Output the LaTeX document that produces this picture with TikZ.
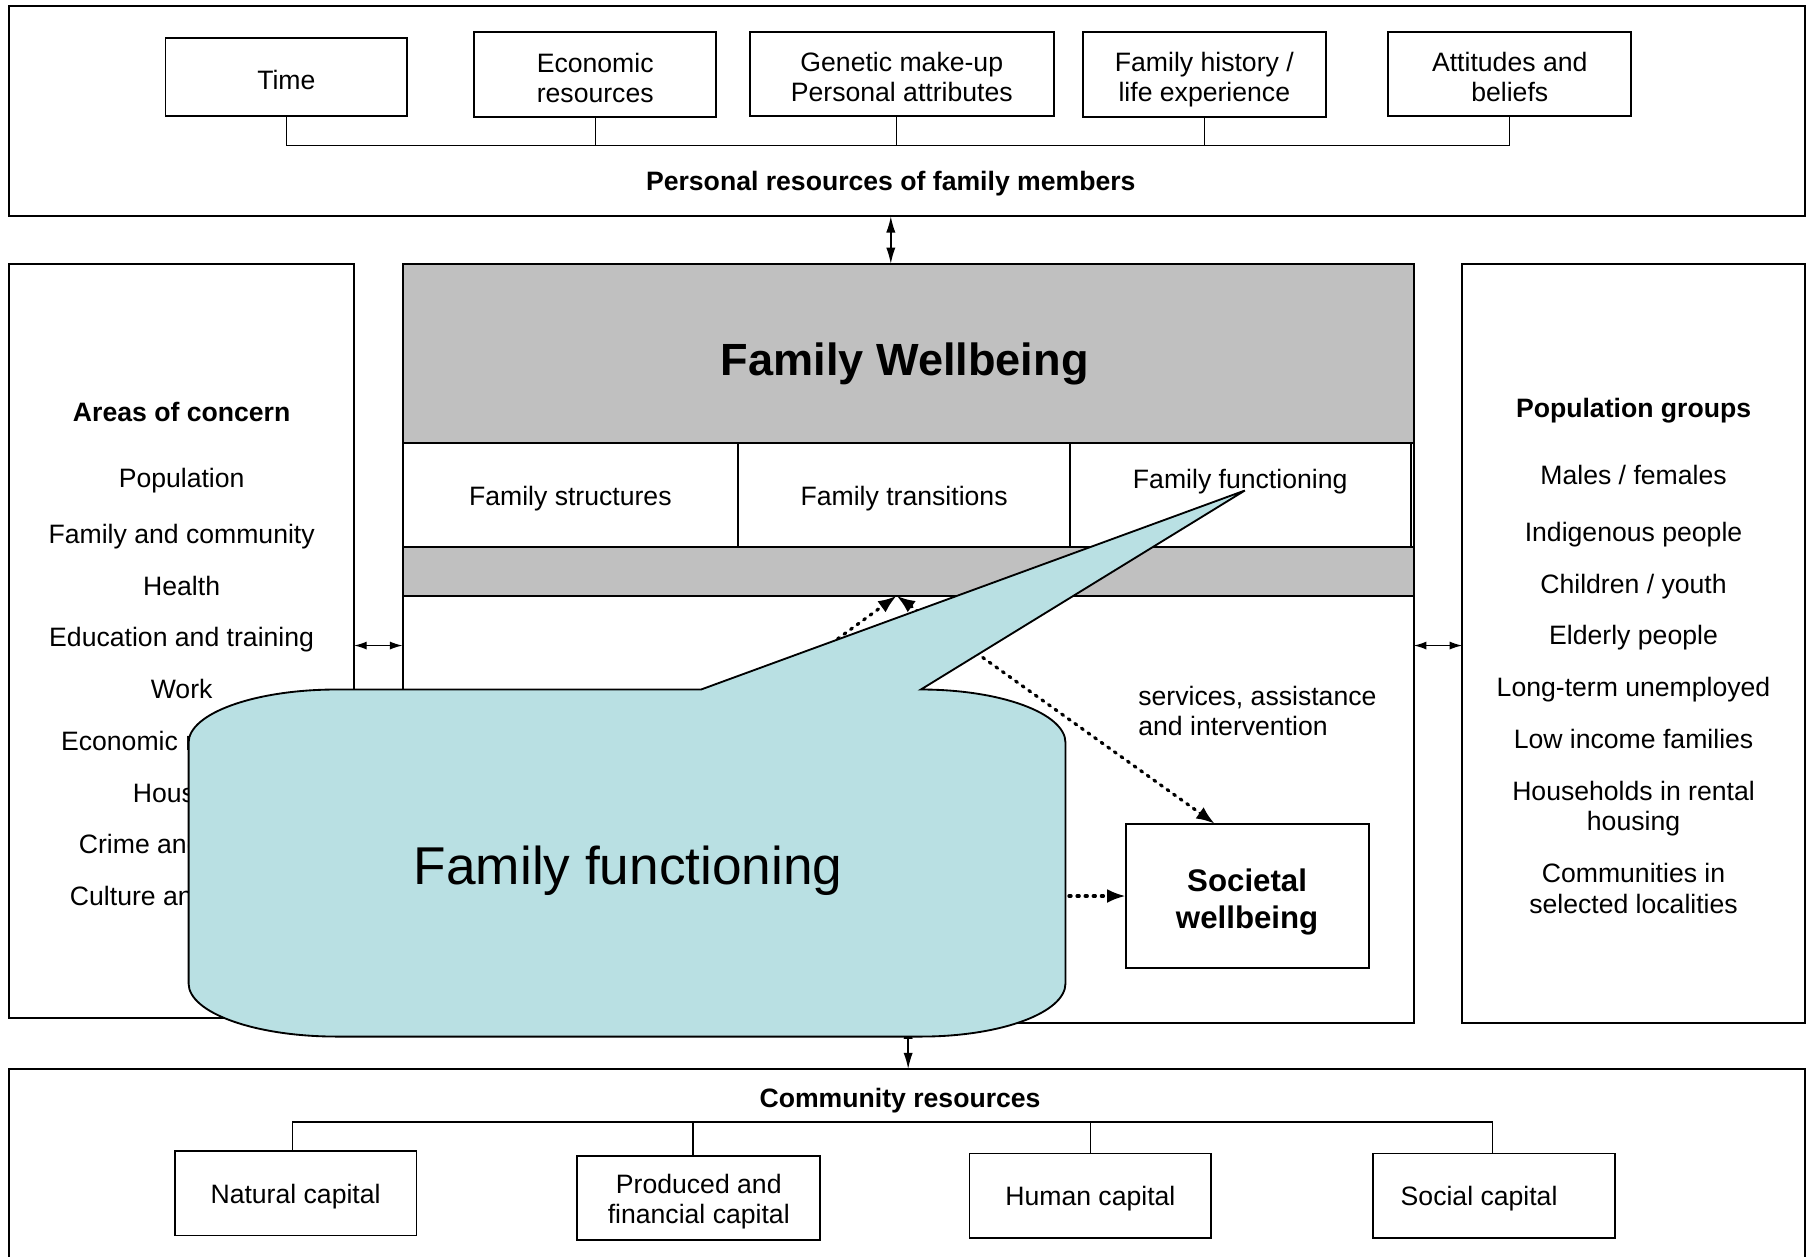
\documentclass[tikz,border=0pt]{standalone}
\usepackage{fontspec}
\setmainfont{Liberation Sans}
\usetikzlibrary{arrows.meta,calc}
\definecolor{wbgray}{RGB}{192,192,192}
\definecolor{callblue}{RGB}{185,224,227}
\newcommand\dstrut[1]{\rule{0pt}{#1}}
\tikzset{
  every node/.style={inner sep=0pt, outer sep=0pt},
  txt/.style={font=\fontsize{11.5}{13}\selectfont, align=center},
  head/.style={font=\bfseries\fontsize{11.5}{14}\selectfont, anchor=base},
  item/.style={font=\fontsize{11.5}{13}\selectfont, align=center},
  rbox/.style={draw, line width=0.8pt, fill=white, txt},
  bigbox/.style={draw, line width=0.8pt},
  graybox/.style={draw, line width=0.8pt, fill=wbgray},
  link/.style={line width=0.6pt},
  dbl/.style={line width=0.6pt, {Latex[length=7pt,width=4pt]}-{Latex[length=7pt,width=4pt]}},
  hdbl/.style={line width=0.6pt, {Latex[length=5.5pt,width=3.5pt]}-{Latex[length=5.5pt,width=3.5pt]}},
  dotline/.style={line width=1.4pt, line cap=round, dash pattern=on 0.9pt off 2.6pt},
  dotarrow/.style={dotline, -{Latex[length=8pt,width=6pt]}},
  dotdbl/.style={dotline, {Latex[length=8pt,width=6pt]}-{Latex[length=8pt,width=6pt]}},
  callout/.style={draw, line width=0.8pt, fill=callblue},
}
\begin{document}
\begin{tikzpicture}[x=0.5pt,y=-0.5pt]
\useasboundingbox (0,0) rectangle (1568,1085.7);
\fill[white] (0,0) rectangle (1568,1085.7);

% ---------- personal resources ----------
\node[bigbox, minimum width=776pt, minimum height=91pt] (pers) at (784,96) {};
\node[rbox, minimum width=104.5pt, minimum height=33.5pt] (time) at (247.5,66.5) {\dstrut{11.2pt}Time};
\node[rbox, minimum width=104.5pt, minimum height=36.5pt] (econ) at (514.5,64.5) {\dstrut{11.4pt}Economic\\resources};
\node[rbox, minimum width=131.5pt, minimum height=36pt] (gene) at (779.5,64) {\dstrut{10.6pt}Genetic make-up\\Personal attributes};
\node[rbox, minimum width=105pt, minimum height=36.5pt] (hist) at (1041,64.5) {\dstrut{12.4pt}Family history /\\life experience};
\node[rbox, minimum width=105pt, minimum height=36pt] (atti) at (1305,64) {\dstrut{11pt}Attitudes and\\beliefs};
\coordinate (pbus) at (0,126);
\draw[link] (time.south) -- (time.south |- pbus) -- (atti.south |- pbus) -- (atti.south);
\draw[link] (econ.south) -- (econ.south |- pbus);
\draw[link] ([xshift=-2.25pt]gene.south) -- ([xshift=-2.25pt]gene.south |- pbus);
\draw[link] (hist.south) -- (hist.south |- pbus);
\node[head] (ptitle) at (770,164.5) {Personal resources of family members};

% ---------- central block ----------
\node[bigbox, fill=white, minimum width=437pt, minimum height=328pt] (wb) at (785,556) {};
\node[graybox, minimum width=437pt, minimum height=77.5pt] (wbtop) at (785,305.5) {};
\node[font=\bfseries\fontsize{19.5}{22}\selectfont, anchor=base] (wbtitle) at (782,325) {Family Wellbeing};
\node[rbox, minimum width=145pt, minimum height=45pt] (fstruct) at (493,428) {\dstrut{11.2pt}Family structures};
\node[rbox, minimum width=143.5pt, minimum height=45pt] (ftrans) at (781.5,428) {\dstrut{11.2pt}Family transitions};
\node[rbox, minimum width=147.5pt, minimum height=45pt] (ffunc) at (1072.5,428) {};
\node[item, anchor=base] (ffunctxt) at (1072,422) {Family functioning};
\node[graybox, minimum width=437pt, minimum height=21pt] (band) at (785,494) {};

\node[rbox, minimum width=105pt, minimum height=62.5pt, font=\bfseries\fontsize{13.5}{16}\selectfont] (soc) at (1078,774.5) {\dstrut{14.7pt}Societal\\wellbeing};
\node[txt, align=left, anchor=north west] (serv) at (984,593) {services, assistance\\and intervention};

% ---------- areas of concern ----------
\node[bigbox, minimum width=149pt, minimum height=326pt] (areas) at (157,554) {};
\node[head] (areastitle) at (157,364.3) {Areas of concern};
\node[item, anchor=base] (area1) at (157,421) {Population};
\node[item, anchor=base] (area2) at (157,470) {Family and community};
\node[item, anchor=base] (area3) at (157,515) {Health};
\node[item, anchor=base] (area4) at (157,559) {Education and training};
\node[item, anchor=base] (area5) at (157,604) {Work};
\node[item, anchor=base] (area6) at (157,649) {Economic resources};
\node[item, anchor=base] (area7) at (157,694) {Housing};
\node[item, anchor=base] (area8) at (157,738) {Crime and justice};
\node[item, anchor=base] (area9) at (157,783) {Culture and leisure};

% ---------- population groups ----------
\node[bigbox, minimum width=148pt, minimum height=328pt] (popbox) at (1412,556) {};
\node[head] (poptitle) at (1412,361.3) {Population groups};
\node[item, anchor=base] (pop1) at (1412,419) {Males / females};
\node[item, anchor=base] (pop2) at (1412,468) {Indigenous people};
\node[item, anchor=base] (pop3) at (1412,513) {Children / youth};
\node[item, anchor=base] (pop4) at (1412,557) {Elderly people};
\node[item, anchor=base] (pop5) at (1412,602) {Long-term unemployed};
\node[item, anchor=base] (pop6) at (1412,647) {Low income families};
\node[item] (pop7) at (1412,699) {Households in rental\\housing};
\node[item] (pop8) at (1412,768) {Communities in\\selected localities};

% ---------- community resources ----------
\node[bigbox, minimum width=776pt, minimum height=90pt] (comm) at (784,1014) {};
\node[head] (ctitle) at (778,957.3) {Community resources};
\node[rbox, minimum width=104.5pt, minimum height=36.5pt] (nat) at (255.5,1031.5) {\dstrut{11.2pt}Natural capital};
\node[rbox, minimum width=105pt, minimum height=36.5pt] (prod) at (604,1035.5) {\dstrut{11.6pt}Produced and\\financial capital};
\node[rbox, minimum width=104.5pt, minimum height=36.5pt] (hum) at (942.5,1033.5) {\dstrut{11.2pt}Human capital};
\node[rbox, minimum width=104.5pt, minimum height=36.5pt] (socc) at (1291.5,1033.5) {\dstrut{11.2pt}\hbox{Social capital\kern13pt}};
\coordinate (cbus) at (0,970);
\draw[link] ([xshift=-1.25pt]nat.north) -- ([xshift=-1.25pt]nat.north |- cbus) -- ([xshift=-0.75pt]socc.north |- cbus) -- ([xshift=-0.75pt]socc.north);
\draw[link] ([xshift=-2.5pt]prod.north) -- ([xshift=-2.5pt]prod.north |- cbus);
\draw[link] (hum.north) -- (hum.north |- cbus);

% ---------- links between blocks ----------
\draw[dbl] (ptitle.base |- pers.south) -- (ptitle.base |- wb.north);
\draw[hdbl] ([yshift=-2pt]areas.east) -- ([yshift=-2pt]areas.east -| wb.west);
\draw[hdbl] ([yshift=-1pt]wb.east) -- ([yshift=-1pt]wb.east -| popbox.west);
\draw[dbl] (wb.south) -- (wb.south |- comm.north);

% ---------- dotted arrows ----------
\coordinate (J) at (775,515);
\coordinate (hidA) at (560,672);
\coordinate (hidB) at (700,774.5);
\draw[dotarrow] (hidA) -- (J);
\draw[dotdbl] (J) -- ([xshift=-14pt]soc.north);
\draw[dotarrow] (hidB) -- (soc.west);

% ---------- callout ----------
\path[callout] (163,642) .. controls (163,616.6) and (220.3,596) .. (291,596)
  -- (606,596) -- (1076,424) -- (796,596)
  .. controls (865,596) and (921,616.6) .. (921,642)
  -- (921,850) .. controls (921,875.4) and (865,896) .. (796,896)
  -- (291,896) .. controls (220.3,896) and (163,875.4) .. (163,850) -- cycle;
\node[font=\fontsize{23}{26}\selectfont, anchor=base] (calltxt) at (543,764.5) {Family functioning};
\end{tikzpicture}
\end{document}
